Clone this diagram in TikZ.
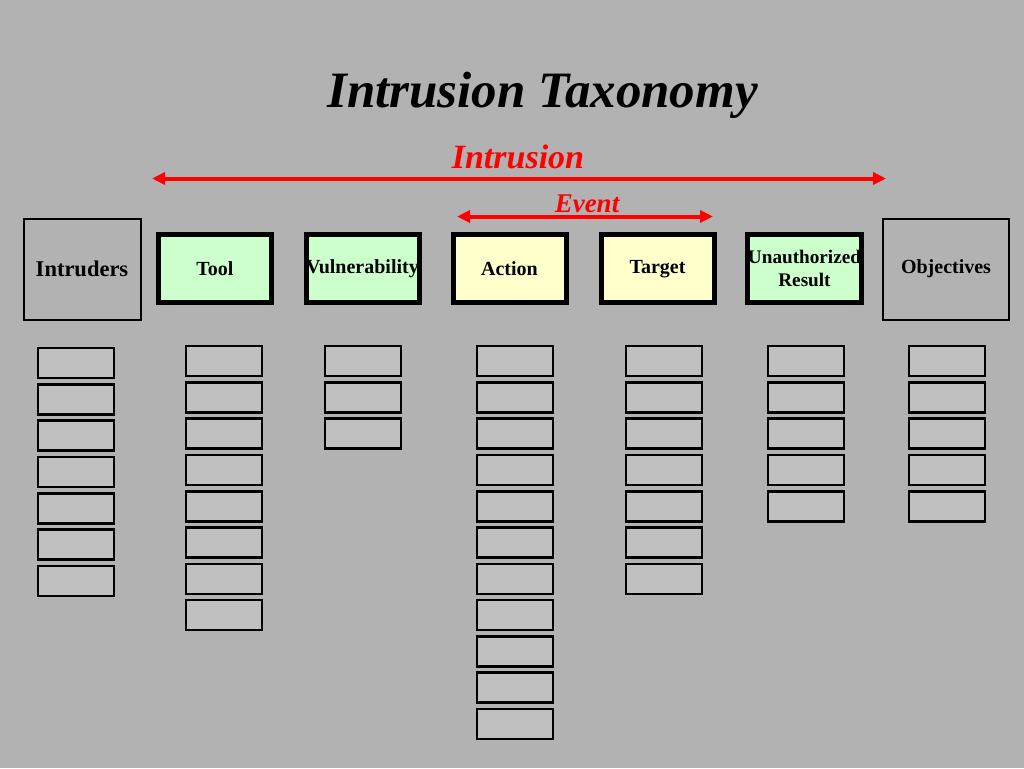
\documentclass[tikz,border=0pt]{standalone}
\usepackage{fontspec}
\setmainfont{Liberation Serif}
\usetikzlibrary{arrows.meta}
\definecolor{slidegray}{HTML}{B2B2B2}
\definecolor{slotgray}{HTML}{C0C0C0}
\definecolor{palegreen}{HTML}{CCFFCC}
\definecolor{paleyellow}{HTML}{FFFFCC}
\definecolor{arrowred}{HTML}{FF0000}
\tikzset{
    party/.style={draw=black,line width=2pt,fill=slidegray,minimum height=101pt,inner sep=0pt,font=\fontsize{20}{22}\selectfont\bfseries},
    stage/.style={draw=black,line width=5pt,minimum width=113pt,minimum height=68pt,inner sep=0pt,align=center,font=\fontsize{20}{22.5}\selectfont\bfseries},
    slot/.style={draw=black,line width=2.6pt,fill=slotgray,minimum width=76pt,minimum height=30pt,inner sep=0pt},
    span/.style={arrowred,line width=4pt,{Triangle[length=13pt,width=12pt]}-{Triangle[length=13pt,width=12pt]}},
    spanlabel/.style={text=arrowred,anchor=base}
}
\begin{document}
\begin{tikzpicture}[x=1pt,y=-1pt]
    \fill[slidegray] (0,0) rectangle (1024,768);
    \useasboundingbox (0,0) rectangle (1024,768);

    \node[anchor=base,font=\fontsize{51}{56}\selectfont\bfseries\itshape] (title) at (542.5,107) {Intrusion Taxonomy};

    % spans
    \coordinate (intrusion-l) at (152,178.5);
    \coordinate (intrusion-r) at (886,178.5);
    \draw[span] (intrusion-l) -- (intrusion-r);
    \node[spanlabel,font=\fontsize{34}{36}\selectfont\bfseries\itshape] (intrusion) at (518,168) {Intrusion};
    \coordinate (event-l) at (457,216.5);
    \coordinate (event-r) at (713,216.5);
    \draw[span] (event-l) -- (event-r);
    \node[spanlabel,font=\fontsize{27}{30}\selectfont\bfseries\itshape] (event) at (587,212) {Event};

    % header row
    \node[party,minimum width=117pt,font=\fontsize{22.5}{24}\selectfont\bfseries] (intruders) at (82,269) {Intruders};
    \node[stage,fill=palegreen] (tool) at (215,268.7) {Tool};
    \node[stage,fill=palegreen] (vuln) at (362.5,268.7) {Vulnerability};
    \node[stage,fill=paleyellow] (action) at (509.5,268.7) {Action};
    \node[stage,fill=paleyellow] (target) at (657.5,268.7) {Target};
    \node[stage,fill=palegreen,font=\fontsize{19.2}{22.5}\selectfont\bfseries] (result) at (804.5,268.7) {Unauthorized\\Result};
    \node[party,minimum width=126pt] (objectives) at (946,269) {Objectives};

    % category slots
    \foreach \i in {0,...,6}
        \node[slot] (intruders-\i) at (76,363+36.3*\i) {};
    \foreach \i in {0,...,7}
        \node[slot] (tool-\i) at (224,361+36.3*\i) {};
    \foreach \i in {0,...,2}
        \node[slot] (vuln-\i) at (363,361+36.3*\i) {};
    \foreach \i in {0,...,10}
        \node[slot] (action-\i) at (515,361+36.3*\i) {};
    \foreach \i in {0,...,6}
        \node[slot] (target-\i) at (664,361+36.3*\i) {};
    \foreach \i in {0,...,4}
        \node[slot] (result-\i) at (806,361+36.3*\i) {};
    \foreach \i in {0,...,4}
        \node[slot] (objectives-\i) at (947,361+36.3*\i) {};
\end{tikzpicture}
\end{document}
